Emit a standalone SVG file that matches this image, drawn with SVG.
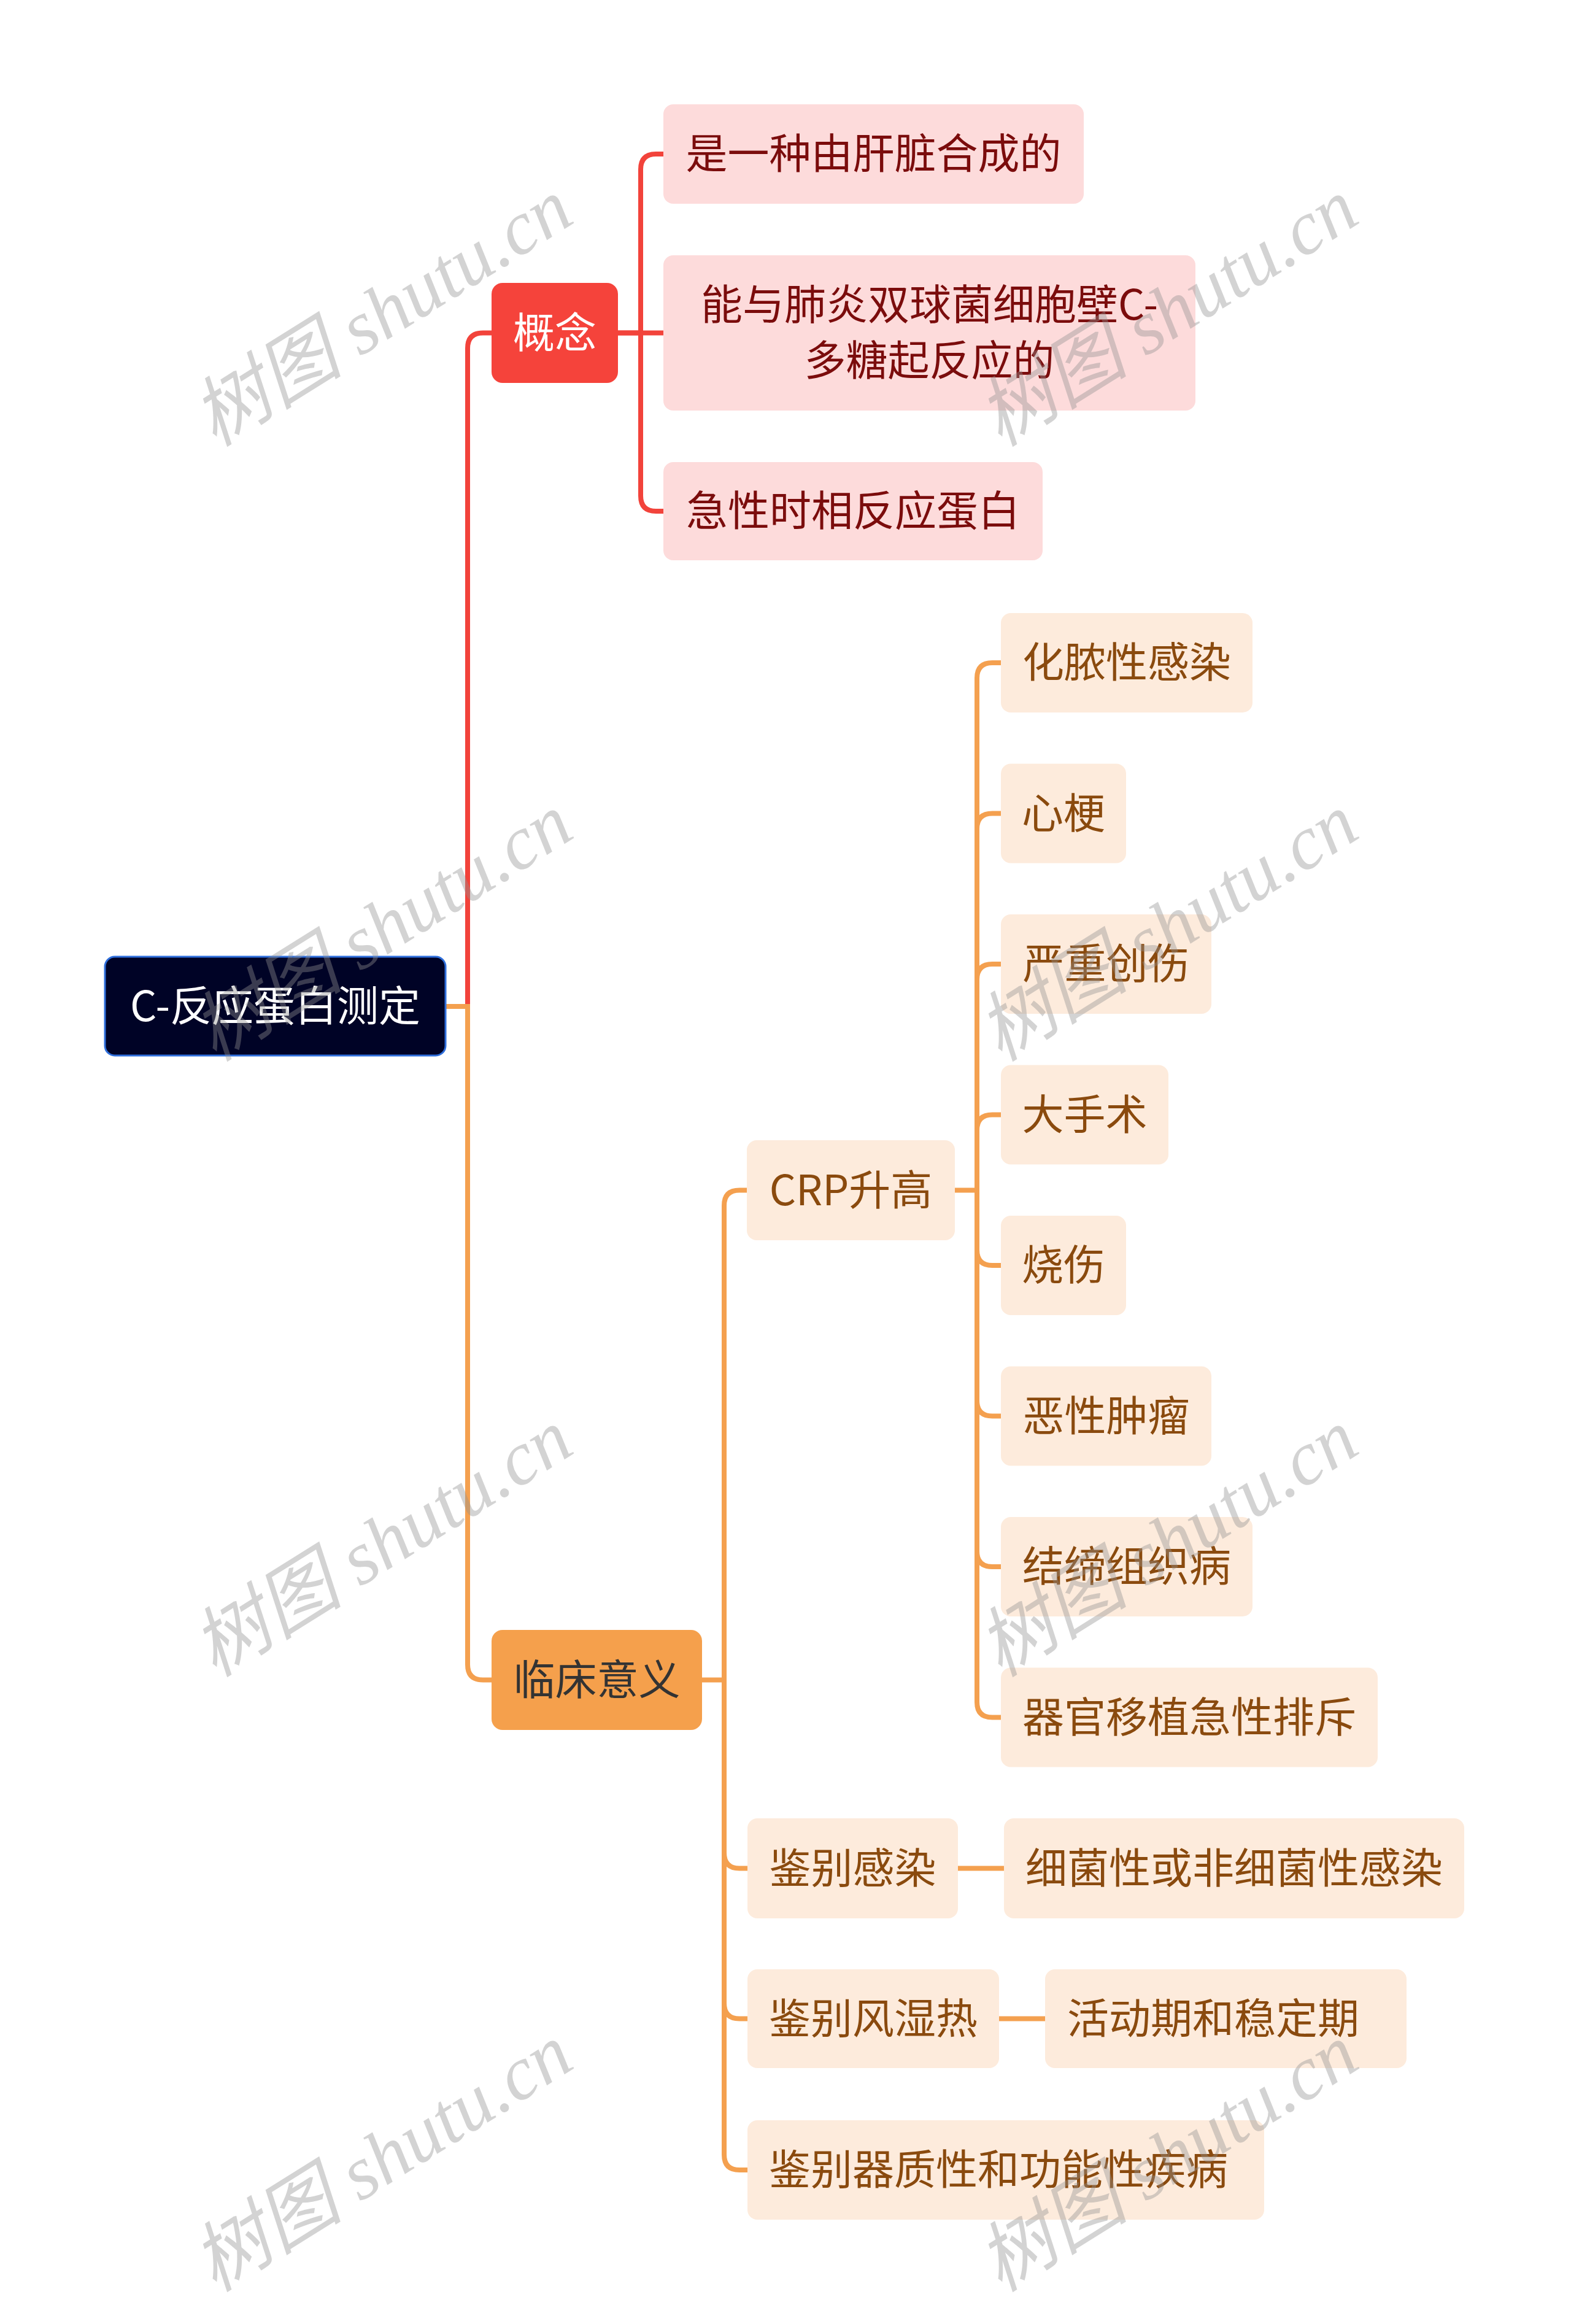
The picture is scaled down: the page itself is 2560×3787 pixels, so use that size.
<svg xmlns="http://www.w3.org/2000/svg" width="2560" height="3787" viewBox="0 0 2560 3787">
<style>
.t{font-family:"Noto Sans CJK SC","Liberation Sans",sans-serif;font-size:68px}
.c{text-anchor:middle}
.red{fill:#7b0c0c}
.br{fill:#8a4a0e}
.pk{fill:#fddbdb}
.og{fill:#fdebdc}
.lr{fill:none;stroke:#f2433b;stroke-width:8;stroke-linecap:butt}
.lo{fill:none;stroke:#f4a04f;stroke-width:8;stroke-linecap:butt}
.wm{font-family:"Liberation Serif","Noto Sans CJK SC",serif;font-style:italic;font-size:124px;fill:#909090;fill-opacity:0.4;text-anchor:middle}
</style>
<rect width="2560" height="3787" fill="#ffffff"/>
<g id="connectors">
<path class="lr" d="M762,1640 V567.5 Q762,542.5 787,542.5 H801"/>
<path class="lo" d="M726,1640 H762 V2712.5 Q762,2737.5 787,2737.5 H801"/>
<path class="lr" d="M1007,542.5 H1044 V276 Q1044,251 1069,251 H1081"/>
<path class="lr" d="M1007,542.5 H1081"/>
<path class="lr" d="M1044,542.5 V808 Q1044,833 1069,833 H1081"/>
<path class="lo" d="M1144,2737.5 H1180 V1964.5 Q1180,1939.5 1205,1939.5 H1217"/>
<path class="lo" d="M1180,2737.5 V3019.5 Q1180,3044.5 1205,3044.5 H1218"/>
<path class="lo" d="M1180,2737.5 V3264.5 Q1180,3289.5 1205,3289.5 H1218"/>
<path class="lo" d="M1180,2737.5 V3511 Q1180,3536 1205,3536 H1218"/>
<path class="lo" d="M1556,1939.5 H1592 V1105 Q1592,1080 1617,1080 H1631"/>
<path class="lo" d="M1592,1939.5 V1350.5 Q1592,1325.5 1617,1325.5 H1631"/>
<path class="lo" d="M1592,1939.5 V1596 Q1592,1571 1617,1571 H1631"/>
<path class="lo" d="M1592,1939.5 V1841.5 Q1592,1816.5 1617,1816.5 H1631"/>
<path class="lo" d="M1592,1939.5 V2037 Q1592,2062 1617,2062 H1631"/>
<path class="lo" d="M1592,1939.5 V2282.5 Q1592,2307.5 1617,2307.5 H1631"/>
<path class="lo" d="M1592,1939.5 V2528 Q1592,2553 1617,2553 H1631"/>
<path class="lo" d="M1592,1939.5 V2773.5 Q1592,2798.5 1617,2798.5 H1631"/>
<path class="lo" d="M1561,3044.5 H1636"/>
<path class="lo" d="M1628,3289.5 H1703"/>
</g>
<g id="root"><rect x="171" y="1559" width="555" height="161" rx="16" fill="#000326" stroke="#2f6fdc" stroke-width="3"/><text class="t c" x="448.5" y="1664" fill="#ffffff">C-反应蛋白测定</text></g>
<g id="n-gainian"><rect x="801" y="461" width="206" height="163" rx="18" fill="#f5433b"/><text class="t c" x="904" y="567" fill="#ffffff">概念</text></g>
<g id="n-c1"><rect class="pk" x="1081" y="170" width="685" height="162" rx="16"/><text class="t c red" x="1423.5" y="275">是一种由肝脏合成的</text></g>
<g id="n-c2"><rect class="pk" x="1081" y="416" width="867" height="253" rx="16"/><text class="t c red" x="1514.5" y="521">能与肺炎双球菌细胞壁C-</text><text class="t c red" x="1514.5" y="612">多糖起反应的</text></g>
<g id="n-c3"><rect class="pk" x="1081" y="753" width="618" height="160" rx="16"/><text class="t c red" x="1390" y="857">急性时相反应蛋白</text></g>
<g id="n-linchuang"><rect x="801" y="2656" width="343" height="163" rx="18" fill="#f5a04c"/><text class="t c" x="972.5" y="2762" fill="#333333">临床意义</text></g>
<g id="n-crp"><rect class="og" x="1217" y="1858" width="339" height="163" rx="16"/><text class="t c br" x="1386.5" y="1964">CRP升高</text></g>
<g id="n-r1"><rect class="og" x="1631" y="999" width="410" height="162" rx="16"/><text class="t c br" x="1836" y="1104">化脓性感染</text></g>
<g id="n-r2"><rect class="og" x="1631" y="1244.5" width="204" height="162" rx="16"/><text class="t c br" x="1733" y="1349.5">心梗</text></g>
<g id="n-r3"><rect class="og" x="1631" y="1490" width="343" height="162" rx="16"/><text class="t c br" x="1802.5" y="1595">严重创伤</text></g>
<g id="n-r4"><rect class="og" x="1631" y="1735.5" width="273" height="162" rx="16"/><text class="t c br" x="1767.5" y="1840.5">大手术</text></g>
<g id="n-r5"><rect class="og" x="1631" y="1981" width="204" height="162" rx="16"/><text class="t c br" x="1733" y="2086">烧伤</text></g>
<g id="n-r6"><rect class="og" x="1631" y="2226.5" width="343" height="162" rx="16"/><text class="t c br" x="1802.5" y="2331.5">恶性肿瘤</text></g>
<g id="n-r7"><rect class="og" x="1631" y="2472" width="410" height="162" rx="16"/><text class="t c br" x="1836" y="2577">结缔组织病</text></g>
<g id="n-r8"><rect class="og" x="1631" y="2717.5" width="614" height="162" rx="16"/><text class="t c br" x="1938" y="2822.5">器官移植急性排斥</text></g>
<g id="n-jb1"><rect class="og" x="1218" y="2963" width="343" height="163" rx="16"/><text class="t c br" x="1389.5" y="3068.5">鉴别感染</text></g>
<g id="n-jb1a"><rect class="og" x="1636" y="2963" width="750" height="163" rx="16"/><text class="t c br" x="2011" y="3068.5">细菌性或非细菌性感染</text></g>
<g id="n-jb2"><rect class="og" x="1218" y="3209" width="410" height="161" rx="16"/><text class="t c br" x="1423" y="3313.5">鉴别风湿热</text></g>
<g id="n-jb2a"><rect class="og" x="1703" y="3209" width="589" height="161" rx="16"/><text class="t br" x="1739" y="3313.5">活动期和稳定期</text></g>
<g id="n-jb3"><rect class="og" x="1218" y="3455" width="842" height="162" rx="16"/><text class="t br" x="1253" y="3560">鉴别器质性和功能性疾病</text></g>
<g id="watermarks">
<text class="wm" transform="translate(645,545) rotate(-32)">树图 shutu.cn</text>
<text class="wm" transform="translate(1925,545) rotate(-32)">树图 shutu.cn</text>
<text class="wm" transform="translate(645,1547) rotate(-32)">树图 shutu.cn</text>
<text class="wm" transform="translate(1925,1547) rotate(-32)">树图 shutu.cn</text>
<text class="wm" transform="translate(645,2550) rotate(-32)">树图 shutu.cn</text>
<text class="wm" transform="translate(1925,2550) rotate(-32)">树图 shutu.cn</text>
<text class="wm" transform="translate(645,3552) rotate(-32)">树图 shutu.cn</text>
<text class="wm" transform="translate(1925,3552) rotate(-32)">树图 shutu.cn</text>
</g>
</svg>
